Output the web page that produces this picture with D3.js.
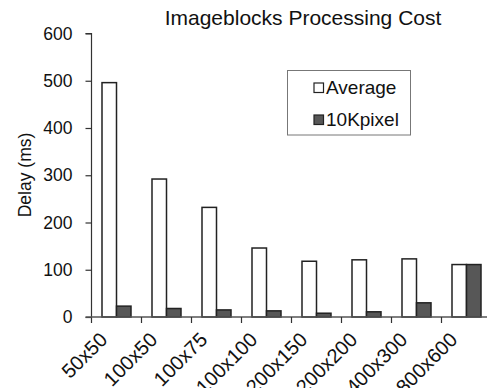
<!DOCTYPE html>
<html>
<head>
<meta charset="utf-8">
<script src="https://cdn.jsdelivr.net/npm/d3@7"></script>
<style>
  html, body { margin: 0; padding: 0; background: #fff; }
  svg { display: block; font-family: "Liberation Sans", Arial, sans-serif; }
</style>
</head>
<body>
<svg id="chart" width="487" height="388"></svg>
<script>
// Image block sizes and measured delays (ms)
const categories = ["50x50", "100x50", "100x75", "100x100", "200x150", "200x200", "400x300", "800x600"];
const seriesNames = ["Average", "10Kpixel"];
const averageDelay = [496, 292, 232, 146, 118, 121, 123, 111];
const perPixelDelay = [23, 18, 15, 13, 8, 11, 30, 111];
const yTicks = [0, 100, 200, 300, 400, 500, 600];
const seriesFill = ["#ffffff", "#575757"];

const svg = d3.select("#chart");
const margin = { left: 91.5, top: 33.5, bottom: 317 };
const plotRight = 491.5;

const x = d3.scaleBand().domain(categories).range([margin.left, plotRight]).paddingInner(0).paddingOuter(0);
const sub = d3.scaleBand().domain(seriesNames).range([10.5, x.bandwidth() - 10.5]).padding(0);
const y = d3.scaleLinear().domain([0, 600]).range([margin.bottom, margin.top]);

const rows = categories.map((c, i) => ({ cat: c, values: [averageDelay[i], perPixelDelay[i]] }));

// Bars
const groups = svg.append("g").selectAll("g").data(rows).join("g")
  .attr("transform", d => `translate(${x(d.cat)},0)`);
groups.selectAll("rect").data(d => d.values.map((v, k) => ({ name: seriesNames[k], v, k })))
  .join("rect")
  .attr("x", d => sub(d.name))
  .attr("y", d => y(d.v))
  .attr("width", sub.bandwidth())
  .attr("height", d => y(0) - y(d.v))
  .attr("fill", d => seriesFill[d.k])
  .attr("stroke", "#222")
  .attr("stroke-width", 1.5);

// Y axis
const yAxis = d3.axisLeft(y).tickValues(yTicks).tickSize(6).tickPadding(13).tickFormat(d3.format("d"));
const gy = svg.append("g").attr("transform", `translate(${margin.left},0)`).call(yAxis);
gy.select(".domain").attr("stroke", "#333").attr("stroke-width", 1.2).attr("d", `M-6,${margin.top}H0V${margin.bottom + 6}`);
gy.selectAll(".tick line").attr("stroke", "#333").attr("stroke-width", 1.2);
gy.selectAll(".tick text").attr("font-size", 17.5).attr("fill", "#111").attr("font-family", "Liberation Sans, Arial, sans-serif");

// X axis
const gx = svg.append("g").attr("transform", `translate(0,${margin.bottom})`);
gx.append("line").attr("x1", margin.left - 6).attr("x2", 487).attr("y1", 0).attr("y2", 0)
  .attr("stroke", "#555").attr("stroke-width", 1.5);
gx.selectAll("line.tk").data(categories.slice(1)).join("line").attr("class", "tk")
  .attr("x1", d => x(d)).attr("x2", d => x(d)).attr("y1", 0).attr("y2", 6)
  .attr("stroke", "#333").attr("stroke-width", 1.2);
gx.selectAll("text").data(categories).join("text")
  .attr("transform", d => `translate(${x(d) + x.bandwidth() / 2 - 8},24) rotate(-45)`)
  .attr("text-anchor", "end")
  .attr("font-size", 20)
  .attr("fill", "#111")
  .text(d => d);

// Axis title
svg.append("text")
  .attr("transform", "translate(31,175) rotate(-90)")
  .attr("text-anchor", "middle")
  .attr("font-size", 17.5)
  .attr("fill", "#111")
  .text("Delay (ms)");

// Chart title
svg.append("text")
  .attr("x", 303).attr("y", 25)
  .attr("text-anchor", "middle")
  .attr("font-size", 21)
  .attr("fill", "#111")
  .text("Imageblocks Processing Cost");

// Legend
const legend = svg.append("g");
legend.append("rect").attr("x", 287.5).attr("y", 70.5).attr("width", 123).attr("height", 64.5)
  .attr("fill", "#fff").attr("stroke", "#777").attr("stroke-width", 1);
const items = legend.selectAll("g.item").data(seriesNames).join("g").attr("class", "item")
  .attr("transform", (d, i) => `translate(0,${i * 32})`);
items.append("rect").attr("x", 314).attr("y", 83).attr("width", 9.5).attr("height", 9.5)
  .attr("fill", (d, i) => seriesFill[i]).attr("stroke", "#222").attr("stroke-width", 1.2);
items.append("text").attr("x", 326).attr("y", 94).attr("font-size", 19).attr("fill", "#111").text(d => d);
</script>
</body>
</html>
